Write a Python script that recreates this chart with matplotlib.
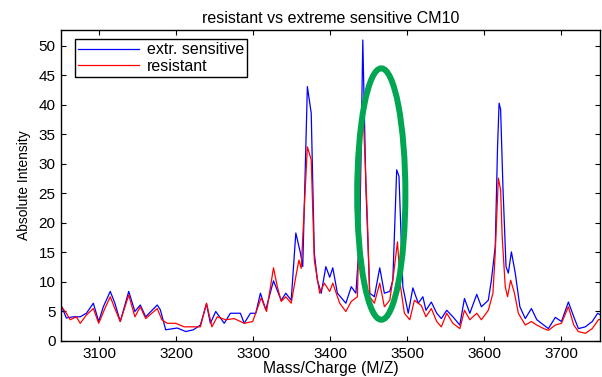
import matplotlib
matplotlib.use("Agg")
import matplotlib.pyplot as plt
from matplotlib.patches import Ellipse

plt.rcParams['font.family'] = ['Liberation Sans', 'DejaVu Sans']

# extr. sensitive spectrum
mz_sens = [3049, 3057, 3066, 3075, 3083, 3092, 3099, 3105, 3114, 3120,
           3127, 3138, 3146, 3153, 3160, 3175, 3179, 3186, 3201, 3212,
           3222, 3231, 3239, 3244, 3251, 3262, 3270, 3283, 3288, 3296,
           3303, 3309, 3316, 3326, 3336, 3342, 3349, 3355, 3361, 3364,
           3370, 3375, 3379, 3383, 3388, 3394, 3399, 3403, 3409, 3420,
           3427, 3433, 3438, 3442, 3446, 3451, 3457, 3464, 3470, 3477,
           3481, 3486, 3489, 3494, 3501, 3507, 3514, 3520, 3524, 3531,
           3538, 3544, 3551, 3559, 3568, 3574, 3581, 3590, 3596, 3605,
           3609, 3614, 3617, 3619, 3621, 3624, 3628, 3631, 3635, 3640,
           3646, 3653, 3661, 3668, 3677, 3683, 3692, 3700, 3709, 3716,
           3722, 3731, 3740, 3747, 3755]
int_sens = [6.4, 3.9, 4.1, 4.1, 4.7, 6.4, 3.3, 5.8, 8.4, 6.4,
            3.3, 8.4, 5.0, 6.1, 4.1, 6.1, 5.3, 1.9, 2.2, 1.6,
            1.9, 2.7, 6.3, 3.0, 5.0, 3.0, 4.7, 4.7, 3.0, 4.7,
            4.7, 8.1, 5.3, 10.2, 6.9, 8.1, 6.9, 18.3, 14.9, 12.6,
            43.1, 38.6, 14.9, 10.3, 8.1, 12.6, 10.8, 12.4, 8.1, 6.4,
            9.2, 8.1, 17.7, 51.0, 26.2, 8.1, 7.5, 12.4, 8.1, 8.4,
            10.3, 29.0, 27.9, 9.2, 4.7, 9.0, 6.4, 7.5, 5.2, 6.6,
            4.7, 3.8, 5.2, 4.1, 2.7, 7.2, 4.7, 7.9, 5.8, 6.9,
            10.3, 16.0, 32.9, 40.3, 39.2, 26.1, 12.6, 11.5, 15.1, 11.5,
            5.8, 3.8, 5.5, 3.6, 2.7, 2.1, 4.0, 3.3, 6.6, 4.1,
            2.1, 2.4, 3.3, 4.7, 4.1]

# resistant spectrum
mz_res = [3049, 3057, 3062, 3070, 3075, 3083, 3092, 3099, 3107, 3114,
          3120, 3127, 3138, 3146, 3153, 3160, 3175, 3181, 3188, 3199,
          3210, 3222, 3231, 3239, 3246, 3253, 3264, 3275, 3288, 3299,
          3310, 3317, 3326, 3331, 3336, 3342, 3349, 3355, 3359, 3362,
          3370, 3375, 3379, 3386, 3392, 3399, 3403, 3412, 3420, 3427,
          3435, 3440, 3443, 3448, 3451, 3457, 3464, 3470, 3477, 3482,
          3487, 3491, 3496, 3503, 3509, 3518, 3524, 3531, 3538, 3544,
          3551, 3559, 3568, 3574, 3581, 3590, 3596, 3605, 3611, 3614,
          3618, 3621, 3623, 3627, 3630, 3634, 3639, 3644, 3653, 3661,
          3668, 3677, 3683, 3692, 3700, 3709, 3716, 3722, 3731, 3740,
          3748, 3755]
int_res = [6.1, 4.7, 3.6, 4.1, 3.0, 4.4, 5.5, 3.0, 5.5, 7.5,
           5.5, 3.3, 7.8, 4.1, 5.8, 3.8, 5.5, 3.6, 3.0, 3.0,
           2.4, 2.4, 2.4, 6.4, 2.4, 4.1, 3.6, 3.8, 3.0, 3.3,
           7.3, 5.0, 12.4, 9.2, 6.7, 7.5, 6.4, 10.9, 13.7, 12.3,
           32.9, 30.7, 13.7, 8.1, 9.8, 8.4, 9.8, 6.4, 5.0, 6.7,
           7.5, 35.5, 37.0, 20.5, 7.5, 6.4, 9.8, 5.8, 6.9, 11.4,
           16.8, 9.2, 4.7, 3.6, 6.9, 6.0, 4.1, 5.5, 3.3, 2.4,
           4.7, 3.0, 2.1, 5.2, 3.6, 4.7, 3.6, 5.2, 8.1, 14.9,
           27.6, 25.6, 17.7, 9.2, 7.5, 10.3, 8.1, 4.7, 2.7, 3.3,
           2.7, 2.1, 1.8, 2.7, 3.0, 5.8, 2.7, 1.6, 1.3, 2.1,
           3.6, 3.8]

# highlighted region (green ellipse)
mark_center = (3466, 24.9)
mark_size = (62.6, 42.6)

fig = plt.figure(figsize=(6.02, 3.77), dpi=100)
ax = fig.add_axes([0.1013, 0.0955, 0.8953, 0.825])

ax.plot(mz_sens, int_sens, color="blue", lw=0.9, label="extr. sensitive")
ax.plot(mz_res, int_res, color="red", lw=0.9, label="resistant")

ax.add_patch(Ellipse(mark_center, mark_size[0], mark_size[1], fill=False,
                     edgecolor="#00a651", lw=4.3, zorder=5))

ax.set_xlim(3050, 3750)
ax.set_ylim(0, 52.7)
ax.set_xticks(range(3100, 3701, 100))
ax.set_yticks(range(0, 51, 5))
ax.tick_params(direction="in", top=True, right=True, length=3.5, width=0.8,
               labelsize=11, pad=4)
for s in ax.spines.values():
    s.set_linewidth(1.0)

ax.set_title("resistant vs extreme sensitive CM10", fontsize=11.5, pad=5)
ax.set_xlabel("Mass/Charge (M/Z)", fontsize=11.3, labelpad=0)
ax.set_ylabel("Absolute Intensity", fontsize=10, labelpad=5)

leg = ax.legend(loc="upper left", bbox_to_anchor=(0.026, 0.971),
                borderaxespad=0, fancybox=False, edgecolor="black",
                framealpha=1, fontsize=11.5, handlelength=3.8,
                handletextpad=0.5, labelspacing=0.1, borderpad=0.2)
leg.get_frame().set_linewidth(1.0)

plt.savefig("out.png", dpi=100)
